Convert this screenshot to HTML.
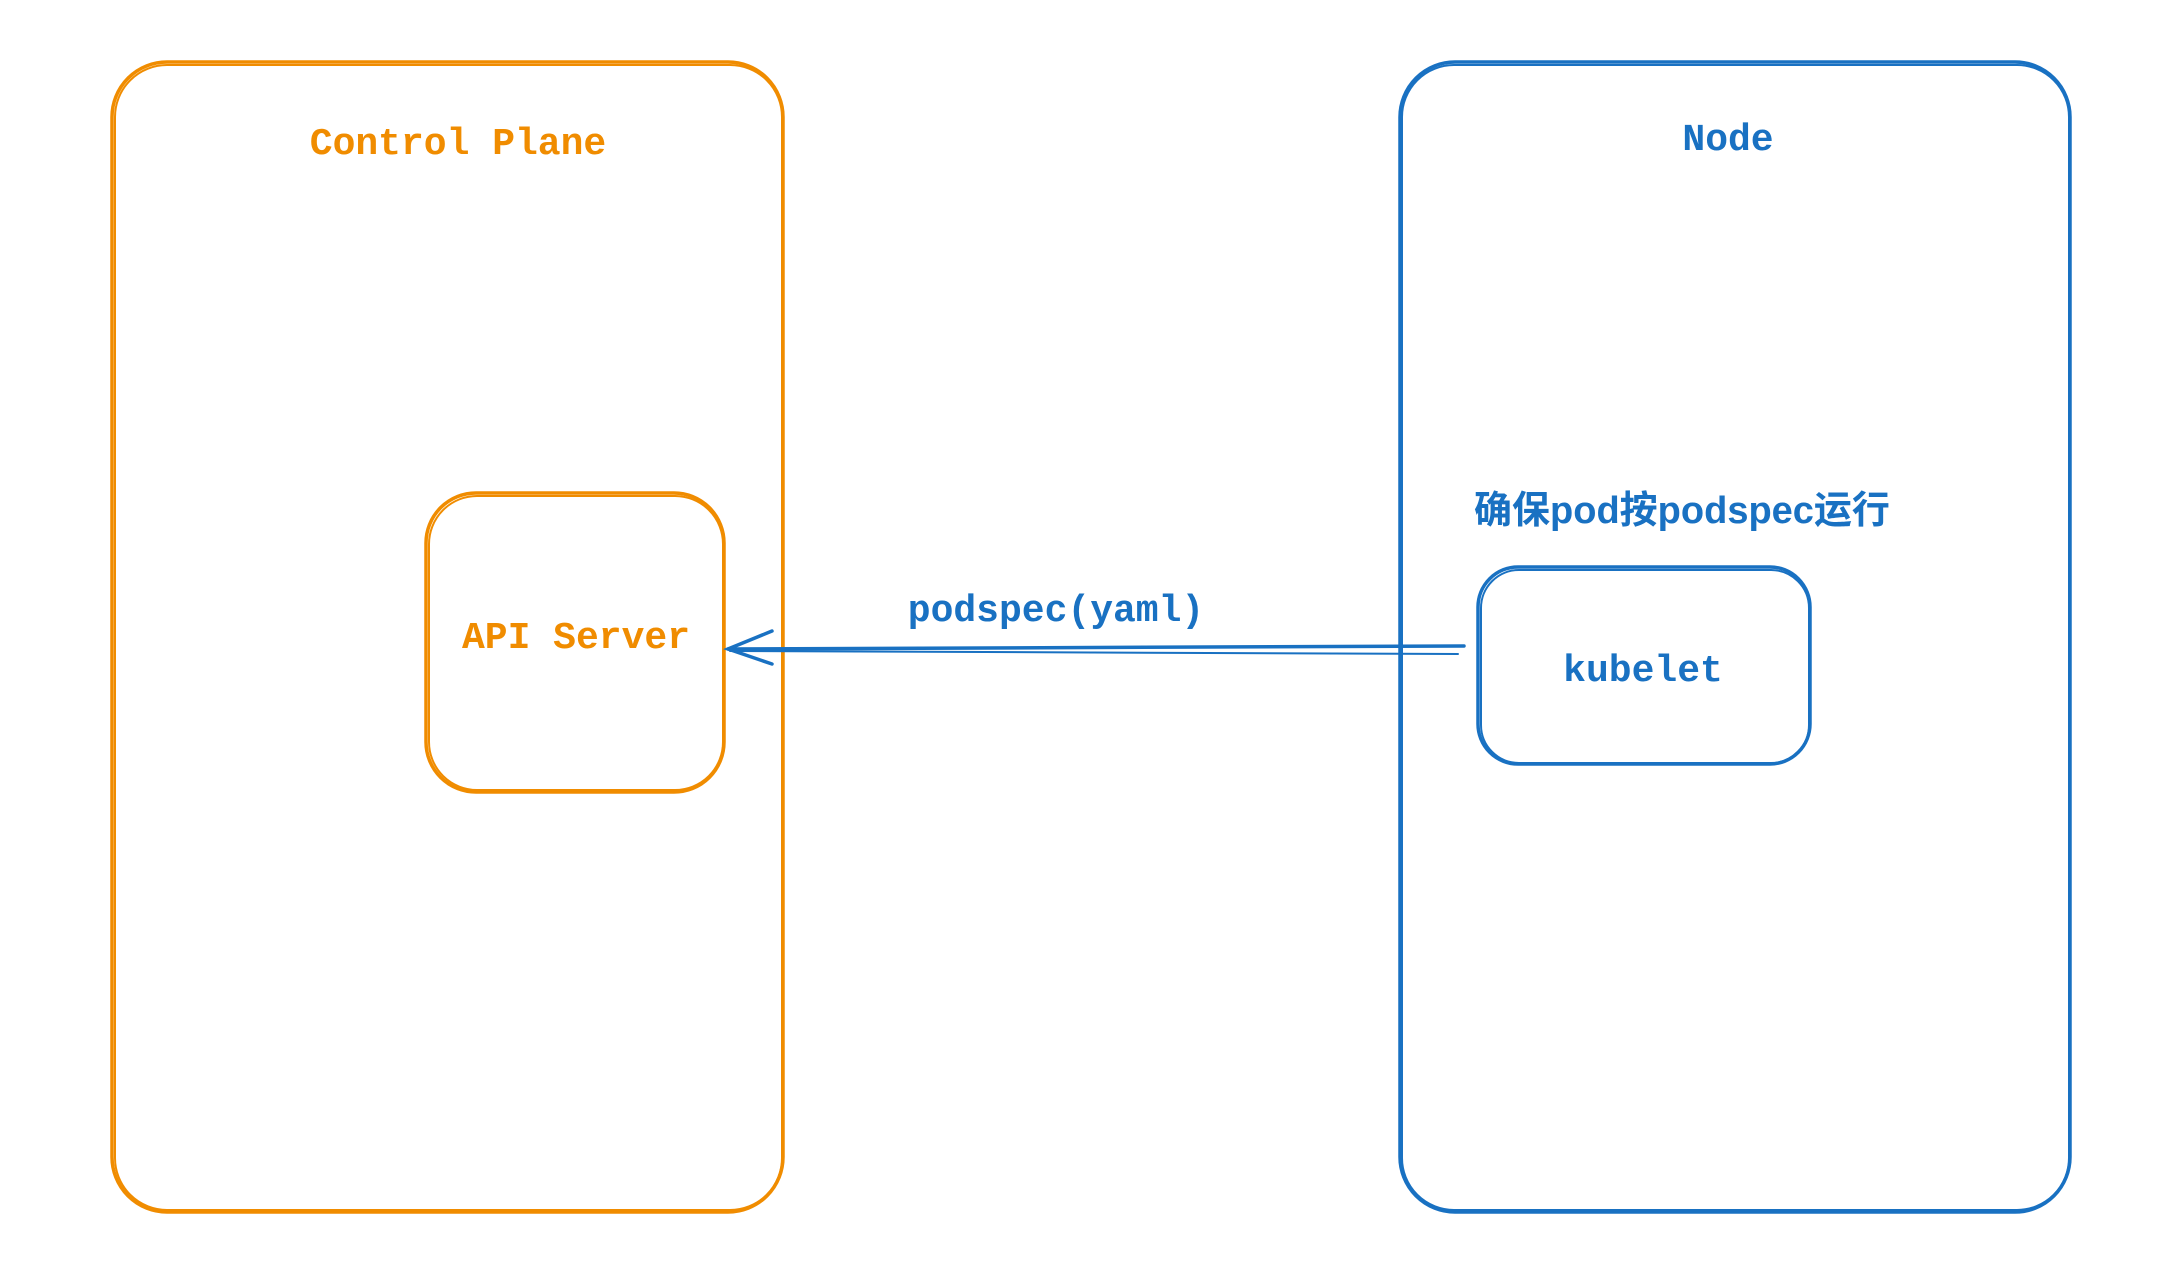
<!DOCTYPE html>
<html><head><meta charset="utf-8"><style>
html,body{margin:0;padding:0;background:#fff;}
svg{display:block}
</style></head><body>
<svg width="2170" height="1262" viewBox="0 0 2170 1262" xmlns="http://www.w3.org/2000/svg">
<rect width="2170" height="1262" fill="#fff"/>
<g fill="none" stroke-width="3.5" stroke-linecap="round">
<rect x="112" y="62" width="671" height="1150" rx="55" stroke="#f08c00"/>
<rect x="115" y="65" width="667" height="1145" rx="52" stroke="#f08c00" stroke-width="2"/>
<rect x="426" y="493" width="298" height="299" rx="50" stroke="#f08c00"/>
<rect x="429" y="496" width="294" height="294" rx="48" stroke="#f08c00" stroke-width="2"/>
<rect x="1400" y="62" width="670" height="1150" rx="55" stroke="#1971c2"/>
<rect x="1402" y="65" width="667" height="1145" rx="52" stroke="#1971c2" stroke-width="2"/>
<rect x="1478" y="567" width="332" height="197" rx="40" stroke="#1971c2"/>
<rect x="1481" y="570" width="328" height="193" rx="38" stroke="#1971c2" stroke-width="2"/>
<path d="M1464 646 L728 649" stroke="#1971c2"/>
<path d="M1458 654 L730 651" stroke="#1971c2" stroke-width="2"/>
<path d="M772 631 L728 649 L772 664" stroke="#1971c2"/>
</g>
<g font-family="'Liberation Mono', monospace" font-weight="bold" font-size="38" text-anchor="middle">
<text x="458" y="154" fill="#f08c00">Control Plane</text>
<text x="1728" y="150" fill="#1971c2">Node</text>
<text x="576" y="648" fill="#f08c00">API Server</text>
<text x="1056" y="621" fill="#1971c2">podspec(yaml)</text>
<text x="1643" y="681" fill="#1971c2">kubelet</text>
</g>
<text x="1682" y="523" fill="#1971c2" font-family="'Liberation Sans','Noto Sans CJK SC',sans-serif" font-weight="bold" font-size="38" text-anchor="middle">确保pod按podspec运行</text>
</svg>
</body></html>
